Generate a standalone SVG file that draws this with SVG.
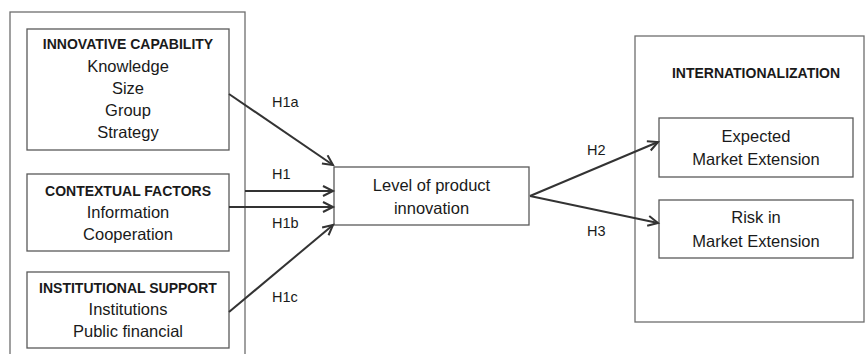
<svg xmlns="http://www.w3.org/2000/svg" width="866" height="354" viewBox="0 0 866 354">
  <style>
    .box { fill: #ffffff; stroke: #595959; stroke-width: 1.3; }
    .frame { fill: none; stroke: #6e6e6e; stroke-width: 1.3; }
    .title { font-family: "Liberation Sans", Arial, sans-serif; font-size: 14px; font-weight: bold; fill: #1a1a1a; text-anchor: middle; }
    .item { font-family: "Liberation Sans", Arial, sans-serif; font-size: 16.5px; fill: #1a1a1a; text-anchor: middle; }
    .lab { font-family: "Liberation Sans", Arial, sans-serif; font-size: 14.5px; fill: #1a1a1a; }
    .arrow { fill: none; stroke: #333333; stroke-width: 2; marker-end: url(#head); }
  </style>
  <defs>
    <marker id="head" markerUnits="userSpaceOnUse" markerWidth="14" markerHeight="14" refX="11" refY="6" orient="auto">
      <path d="M1,1 L11,6 L1,11" fill="none" stroke="#333333" stroke-width="2" stroke-linejoin="miter"/>
    </marker>
  </defs>

  <rect width="866" height="354" fill="#ffffff"/>

  <!-- antecedent frame (left), open at the bottom -->
  <g id="antecedents-frame">
    <rect class="frame" x="10" y="12" width="235" height="360"/>
  </g>

  <g id="innovative-capability">
    <rect class="box" x="27" y="29" width="202" height="121"/>
    <text class="title" x="128" y="49">INNOVATIVE CAPABILITY</text>
    <text class="item" x="128" y="72">Knowledge</text>
    <text class="item" x="128" y="94">Size</text>
    <text class="item" x="128" y="116">Group</text>
    <text class="item" x="128" y="138">Strategy</text>
  </g>

  <g id="contextual-factors">
    <rect class="box" x="27" y="174" width="202" height="77"/>
    <text class="title" x="128" y="196">CONTEXTUAL FACTORS</text>
    <text class="item" x="128" y="218">Information</text>
    <text class="item" x="128" y="240">Cooperation</text>
  </g>

  <g id="institutional-support">
    <rect class="box" x="27" y="272" width="202" height="76"/>
    <text class="title" x="128" y="293">INSTITUTIONAL SUPPORT</text>
    <text class="item" x="128" y="315">Institutions</text>
    <text class="item" x="128" y="337">Public financial</text>
  </g>

  <g id="product-innovation">
    <rect class="box" x="334" y="167" width="195" height="58"/>
    <text class="item" x="431.5" y="191">Level of product</text>
    <text class="item" x="431.5" y="214">innovation</text>
  </g>

  <!-- outcome frame (right) -->
  <g id="internationalization">
    <rect class="frame" x="635" y="36" width="229" height="286"/>
    <text class="title" x="756" y="78">INTERNATIONALIZATION</text>
  </g>

  <g id="expected-extension">
    <rect class="box" x="659" y="118" width="194" height="59"/>
    <text class="item" x="756" y="142">Expected</text>
    <text class="item" x="756" y="165">Market Extension</text>
  </g>

  <g id="risk-extension">
    <rect class="box" x="659" y="200" width="194" height="58"/>
    <text class="item" x="756" y="223">Risk in</text>
    <text class="item" x="756" y="247">Market Extension</text>
  </g>

  <g id="connectors">
    <line class="arrow" x1="229" y1="94" x2="333" y2="165"/>
    <line class="arrow" x1="245" y1="191" x2="333" y2="191"/>
    <line class="arrow" x1="229" y1="207" x2="333" y2="207"/>
    <line class="arrow" x1="229" y1="312" x2="333" y2="225"/>
    <line class="arrow" x1="530" y1="196" x2="658" y2="142"/>
    <line class="arrow" x1="530" y1="196" x2="658" y2="223"/>
    <text class="lab" x="272" y="107">H1a</text>
    <text class="lab" x="272" y="179">H1</text>
    <text class="lab" x="272" y="228">H1b</text>
    <text class="lab" x="272" y="302">H1c</text>
    <text class="lab" x="587" y="155">H2</text>
    <text class="lab" x="587" y="236">H3</text>
  </g>
</svg>
